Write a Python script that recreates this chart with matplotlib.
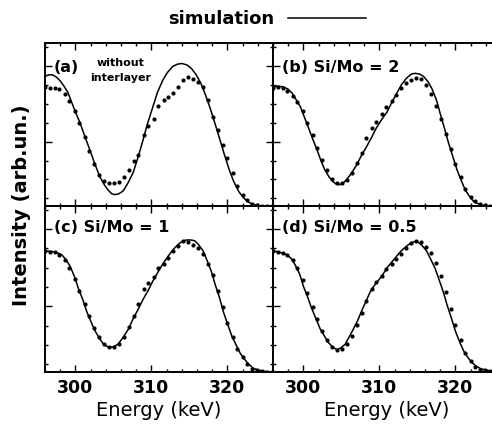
import matplotlib.pyplot as plt
from matplotlib.lines import Line2D
from matplotlib.ticker import MultipleLocator

# energy grid of the measured points (keV)
x_dots = [296.0, 296.6, 297.3, 297.9, 298.6, 299.2, 299.9, 300.5, 301.2, 301.8,
          302.5, 303.1, 303.8, 304.4, 305.1, 305.7, 306.4, 307.0, 307.7, 308.3,
          309.0, 309.6, 310.3, 310.9, 311.6, 312.2, 312.9, 313.5, 314.2, 314.8,
          315.5, 316.1, 316.8, 317.4, 318.1, 318.7, 319.4, 320.0, 320.7, 321.3,
          322.0, 322.6, 323.3, 323.9, 324.6, 325.2, 325.9]

# (a) without interlayer
a_dots = [1.72, 1.71, 1.70, 1.69, 1.63, 1.53, 1.40, 1.24, 1.06, 0.88,
          0.70, 0.56, 0.48, 0.45, 0.45, 0.47, 0.53, 0.62, 0.74, 0.82,
          1.08, 1.20, 1.30, 1.47, 1.55, 1.59, 1.64, 1.72, 1.81, 1.85,
          1.82, 1.79, 1.72, 1.55, 1.32, 1.15, 0.96, 0.78, 0.58, 0.42,
          0.30, 0.23, 0.18, 0.16, 0.15, 0.15, 0.15]
a_sim_x = [296.0, 296.5, 297.0, 297.5, 298.0, 298.5, 299.0, 299.5, 300.0, 300.6,
           301.2, 301.9, 302.5, 303.2, 303.8, 304.3, 304.8, 305.2, 305.7, 306.3,
           306.9, 307.6, 308.2, 308.9, 309.5, 310.2, 310.8, 311.5, 312.1, 312.8,
           313.4, 314.0, 314.7, 315.3, 315.9, 316.5, 317.1, 317.7, 318.3, 319.0,
           319.6, 320.2, 320.8, 321.5, 322.1, 322.8, 323.4, 324.0, 325.0, 326.0]
a_sim_y = [1.86, 1.88, 1.88, 1.85, 1.80, 1.73, 1.65, 1.52, 1.39, 1.25,
           1.08, 0.89, 0.72, 0.54, 0.43, 0.36, 0.31, 0.30, 0.31, 0.35,
           0.45, 0.59, 0.78, 1.02, 1.24, 1.46, 1.65, 1.81, 1.91, 1.99,
           2.02, 2.03, 2.01, 1.96, 1.88, 1.77, 1.62, 1.45, 1.26, 1.03,
           0.83, 0.64, 0.48, 0.34, 0.26, 0.20, 0.17, 0.155, 0.15, 0.15]

# (b) Si/Mo = 2
b_dots = [1.71, 1.72, 1.71, 1.67, 1.60, 1.52, 1.40, 1.25, 1.08, 0.91,
          0.76, 0.62, 0.51, 0.45, 0.45, 0.49, 0.58, 0.72, 0.85, 1.05,
          1.18, 1.26, 1.36, 1.45, 1.53, 1.62, 1.71, 1.77, 1.81, 1.84,
          1.82, 1.75, 1.63, 1.47, 1.30, 1.10, 0.90, 0.71, 0.53, 0.38,
          0.27, 0.21, 0.17, 0.16, 0.15, 0.15, 0.15]
b_sim_x = [296.0, 296.7, 297.4, 298.0, 298.5, 299.0, 299.6, 300.1, 300.6, 301.2,
           301.8, 302.3, 302.8, 303.4, 303.9, 304.3, 304.7, 305.2, 305.7, 306.3,
           307.0, 307.6, 308.3, 309.0, 309.6, 310.3, 311.0, 311.6, 312.3, 312.9,
           313.6, 314.2, 314.7, 315.3, 315.8, 316.4, 316.9, 317.5, 318.0, 318.6,
           319.1, 319.7, 320.2, 320.8, 321.3, 321.9, 322.4, 323.0, 323.5, 324.5,
           326.0]
b_sim_y = [1.72, 1.73, 1.72, 1.69, 1.64, 1.56, 1.46, 1.33, 1.20, 1.04,
           0.89, 0.75, 0.63, 0.53, 0.47, 0.44, 0.43, 0.45, 0.50, 0.58,
           0.69, 0.81, 0.93, 1.06, 1.18, 1.29, 1.39, 1.51, 1.64, 1.75,
           1.84, 1.89, 1.90, 1.89, 1.86, 1.79, 1.70, 1.55, 1.37, 1.16,
           0.98, 0.79, 0.63, 0.48, 0.36, 0.27, 0.21, 0.18, 0.16, 0.15,
           0.15]

# (c) Si/Mo = 1
c_dots = [1.72, 1.71, 1.70, 1.67, 1.60, 1.50, 1.36, 1.20, 1.03, 0.87,
          0.72, 0.60, 0.51, 0.47, 0.47, 0.51, 0.60, 0.73, 0.87, 1.03,
          1.23, 1.30, 1.38, 1.50, 1.55, 1.63, 1.72, 1.78, 1.85, 1.84,
          1.80, 1.76, 1.68, 1.55, 1.40, 1.20, 0.99, 0.78, 0.60, 0.45,
          0.34, 0.25, 0.19, 0.17, 0.16, 0.15, 0.15]
c_sim_x = [296.0, 297.0, 297.7, 298.2, 298.8, 299.3, 299.9, 300.4, 301.0, 301.5,
           302.1, 302.6, 303.2, 303.7, 304.2, 304.6, 305.1, 305.6, 306.3, 307.0,
           307.6, 308.3, 308.9, 309.6, 310.2, 310.9, 311.5, 312.2, 312.8, 313.5,
           314.0, 314.6, 315.2, 315.7, 316.2, 316.8, 317.3, 317.9, 318.4, 319.0,
           319.5, 320.1, 320.6, 321.2, 321.7, 322.3, 322.8, 323.4, 323.9, 324.5,
           325.2, 326.0]
c_sim_y = [1.72, 1.71, 1.69, 1.67, 1.60, 1.52, 1.38, 1.23, 1.08, 0.93,
           0.79, 0.68, 0.58, 0.51, 0.48, 0.47, 0.48, 0.51, 0.60, 0.71,
           0.84, 0.97, 1.09, 1.21, 1.33, 1.45, 1.55, 1.65, 1.73, 1.80,
           1.84, 1.86, 1.86, 1.85, 1.80, 1.72, 1.60, 1.45, 1.28, 1.10,
           0.92, 0.75, 0.61, 0.49, 0.39, 0.31, 0.25, 0.20, 0.18, 0.165,
           0.155, 0.15]

# (d) Si/Mo = 0.5
d_dots = [1.72, 1.71, 1.69, 1.66, 1.60, 1.50, 1.34, 1.17, 0.99, 0.83,
          0.68, 0.56, 0.48, 0.44, 0.45, 0.51, 0.62, 0.76, 0.92, 1.07,
          1.22, 1.31, 1.39, 1.48, 1.55, 1.61, 1.68, 1.75, 1.82, 1.85,
          1.83, 1.77, 1.69, 1.56, 1.39, 1.19, 0.97, 0.76, 0.56, 0.40,
          0.29, 0.22, 0.18, 0.17, 0.16, 0.15, 0.15]
d_sim_x = [296.0, 296.9, 297.8, 298.4, 298.9, 299.5, 300.0, 300.6, 301.1, 301.7,
           302.2, 302.8, 303.3, 303.9, 304.4, 304.9, 305.5, 306.0, 306.6, 307.2,
           307.7, 308.3, 308.8, 309.4, 309.9, 310.5, 311.0, 311.6, 312.1, 312.6,
           313.1, 313.7, 314.3, 314.7, 315.1, 315.6, 316.2, 316.7, 317.3, 317.8,
           318.4, 318.9, 319.5, 320.0, 320.6, 321.1, 321.7, 322.2, 322.8, 323.4,
           323.9, 324.5, 325.2, 326.0]
d_sim_y = [1.72, 1.70, 1.67, 1.62, 1.54, 1.42, 1.26, 1.11, 0.97, 0.83,
           0.71, 0.61, 0.53, 0.47, 0.44, 0.46, 0.51, 0.60, 0.71, 0.83,
           0.95, 1.08, 1.19, 1.28, 1.34, 1.42, 1.50, 1.57, 1.63, 1.69,
           1.74, 1.79, 1.83, 1.84, 1.83, 1.79, 1.72, 1.62, 1.50, 1.36,
           1.19, 1.02, 0.84, 0.68, 0.53, 0.42, 0.33, 0.27, 0.22, 0.19,
           0.18, 0.165, 0.155, 0.15]

panels = [
    ("(a)", a_dots, a_sim_x, a_sim_y),
    ("(b) Si/Mo = 2", b_dots, b_sim_x, b_sim_y),
    ("(c) Si/Mo = 1", c_dots, c_sim_x, c_sim_y),
    ("(d) Si/Mo = 0.5", d_dots, d_sim_x, d_sim_y),
]

plt.rcParams['font.family'] = 'DejaVu Sans'
plt.rcParams['font.weight'] = 'bold'
fig = plt.figure(figsize=(4.92, 4.24), dpi=100)

W, H = 492.0, 424.0
pos = [
    [45 / W, 1 - 206 / H, 228 / W, 163 / H],
    [273 / W, 1 - 206 / H, 228 / W, 163 / H],
    [45 / W, 1 - 372 / H, 228 / W, 166 / H],
    [273 / W, 1 - 372 / H, 228 / W, 166 / H],
]

for i, (lab, dots, sx, sy) in enumerate(panels):
    ax = fig.add_axes(pos[i])
    ax.plot(sx, sy, color='black', lw=1.1)
    ax.plot(x_dots, dots, 'o', color='black', ms=3.0, mew=0)
    ax.set_xlim(296, 326)
    ax.set_ylim(0.15, 2.3)
    ax.xaxis.set_major_locator(MultipleLocator(10))
    ax.xaxis.set_minor_locator(MultipleLocator(2))
    ax.yaxis.set_major_locator(MultipleLocator(1))
    ax.yaxis.set_minor_locator(MultipleLocator(0.25))
    ax.tick_params(which='both', direction='in', top=True, right=True, width=1)
    ax.tick_params(which='major', length=5)
    ax.tick_params(which='minor', length=2.5)
    ax.set_yticklabels([])
    for s in ax.spines.values():
        s.set_linewidth(1.4)
    if i < 2:
        ax.set_xticklabels([])
        ly = 0.85
    else:
        ax.tick_params(axis='x', labelsize=12.5, pad=5)
        ax.set_xlabel("Energy (keV)", fontsize=14, labelpad=3)
        ly = 0.87
    ax.text(0.04, ly, lab, transform=ax.transAxes, fontsize=11.5, va='center')
    if i == 0:
        ax.text(0.333, 0.877, "without", transform=ax.transAxes, fontsize=8,
                ha='center', va='center')
        ax.text(0.333, 0.788, "interlayer", transform=ax.transAxes, fontsize=8,
                ha='center', va='center')

fig.text(22 / W, 1 - 205 / H, "Intensity (arb.un.)", rotation=90, fontsize=14,
         ha='center', va='center')

sim_handle = Line2D([], [], color='black', lw=1.1)
fig.legend(handles=[sim_handle], labels=["simulation"], markerfirst=False,
           frameon=False, loc='center', bbox_to_anchor=(267 / W, 1 - 19 / H),
           fontsize=13, handlelength=4.3, handletextpad=0.8)

fig.savefig("out.png", dpi=100)
